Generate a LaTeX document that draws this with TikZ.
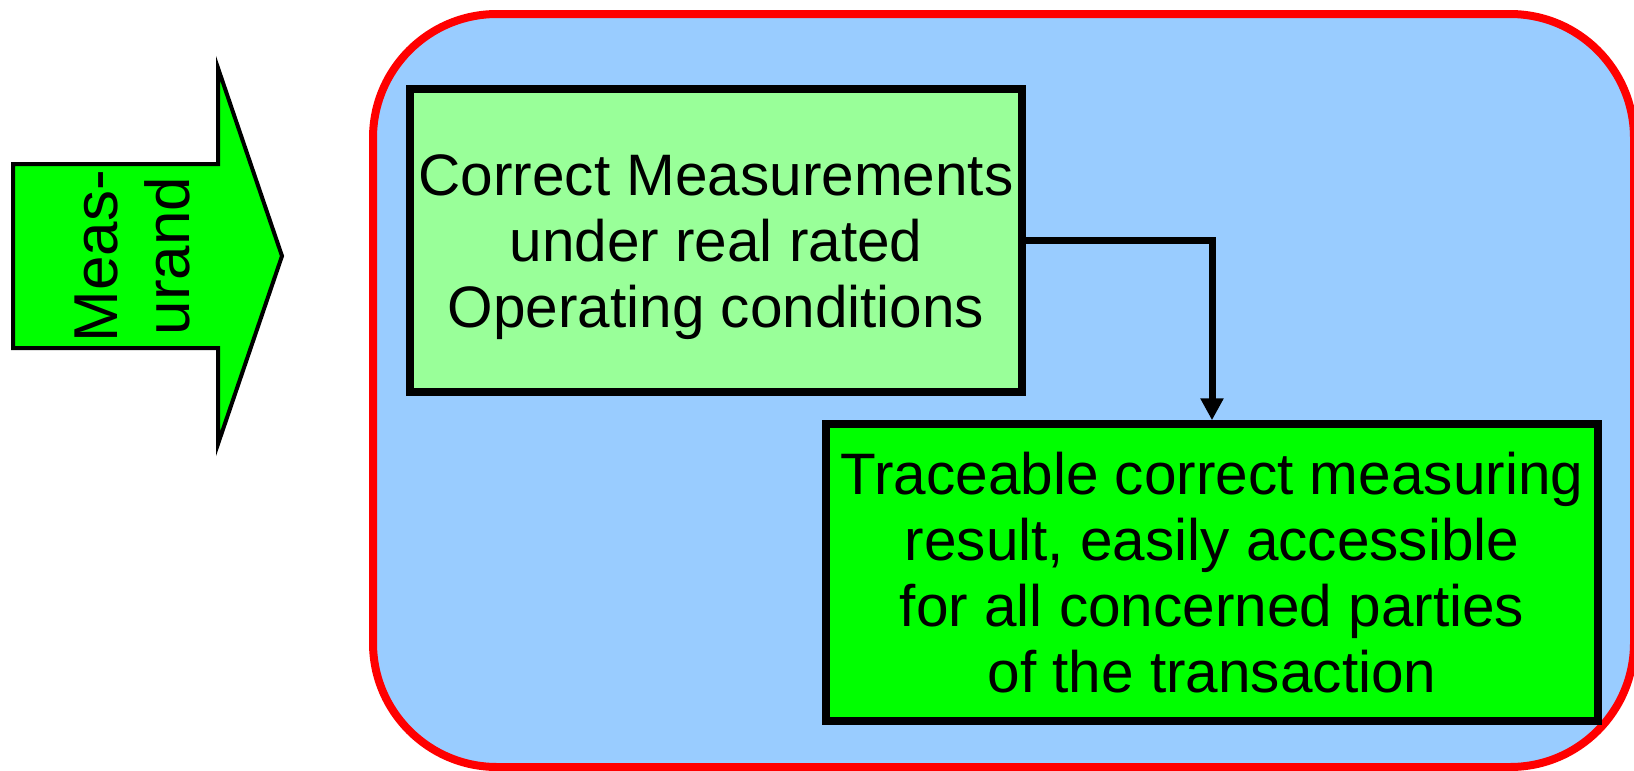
\documentclass[tikz,border=0pt]{standalone}
\usepackage{fontspec}
\setmainfont{Liberation Sans}
\usetikzlibrary{arrows.meta}
\definecolor{bluebg}{HTML}{99CCFF}
\definecolor{redline}{HTML}{FF0000}
\definecolor{lightgreen}{HTML}{99FF99}
\definecolor{brightgreen}{HTML}{00FF00}
\tikzset{
  panel/.style={draw=redline, fill=bluebg, line width=4pt, rounded corners=62pt},
  boxtext/.style={font=\fontsize{29.25pt}{33pt}\selectfont, align=center, inner sep=0pt, line width=3.75pt, draw=black},
  inputarrow/.style={draw=black, fill=brightgreen, line width=2pt, line join=miter},
  arrowtext/.style={font=\fontsize{31pt}{36pt}\selectfont, align=center, inner sep=0pt, rotate=90},
  flow/.style={draw=black, line width=3.5pt, -{Triangle[width=11pt,length=11pt]}}
}
\begin{document}
\begin{tikzpicture}[x=0.5pt,y=-0.5pt]
\useasboundingbox (0,0) rectangle (1634,771);
% panel
\path[panel] (373,14) rectangle (1634,767);
% input arrow
\path[inputarrow] (13,164) -- (218,164) -- (218,68) -- (282,256) -- (218,444) -- (218,348) -- (13,348) -- cycle;
\node[arrowtext] (meas) at (132,256) {Meas-\\urand};
% boxes
\node[boxtext, fill=lightgreen, minimum width=306pt, minimum height=151.5pt] (b1) at (716,240.5)
  {\rule{0pt}{27.2pt}Correct Measurements\\under real rated\\Operating conditions};
\node[boxtext, fill=brightgreen, minimum width=386pt, minimum height=148.5pt] (b2) at (1212,572.5)
  {Traceable correct measuring\\result, easily accessible\\for all concerned parties\\of the transaction};
% connector
\draw[flow] (b1.east) -| (b2.north);
\end{tikzpicture}
\end{document}
